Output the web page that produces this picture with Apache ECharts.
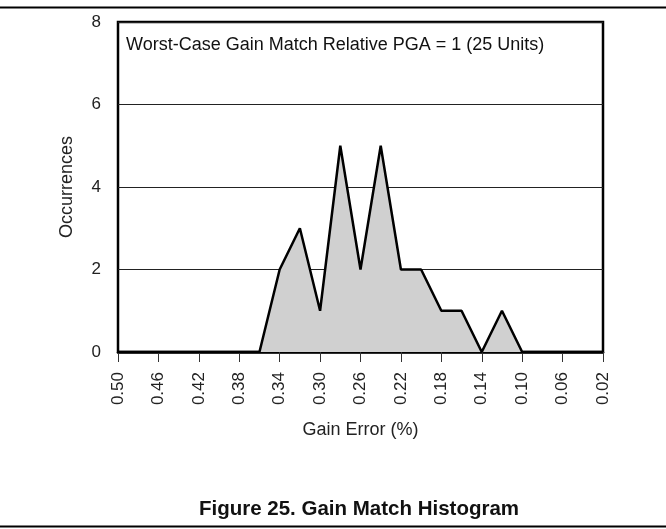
<!DOCTYPE html>
<html>
<head>
<meta charset="utf-8">
<script src="https://cdn.jsdelivr.net/npm/echarts@6/dist/echarts.min.js"></script>
<style>
  html, body { margin: 0; padding: 0; background: #fff; }
  #chart { width: 666px; height: 529px; }
</style>
</head>
<body>
<div id="chart"></div>
<script>
// Gain error bins (%), from 0.50 down to 0.02 in 0.02 steps
const gainErrorBins = ["0.50","0.48","0.46","0.44","0.42","0.40","0.38","0.36","0.34","0.32","0.30","0.28","0.26","0.24","0.22","0.20","0.18","0.16","0.14","0.12","0.10","0.08","0.06","0.04","0.02"];
// Number of units falling in each bin (25 units total)
const occurrences = [0,0,0,0,0,0,0,0,2,3,1,5,2,5,2,2,1,1,0,1,0,0,0,0,0];
const yTicks = { min: 0, max: 8, interval: 2 };

const FONT = '"Liberation Sans", Arial, Helvetica, sans-serif';
const chart = echarts.init(document.getElementById('chart'), null, { renderer: 'canvas' });

chart.setOption({
  animation: false,
  backgroundColor: '#fff',
  grid: {
    left: 118, right: 63, top: 22, bottom: 177,
    show: true, borderColor: '#000', borderWidth: 2.5, backgroundColor: 'transparent'
  },
  xAxis: {
    type: 'category',
    data: gainErrorBins,
    boundaryGap: false,
    name: 'Gain Error (%)',
    nameLocation: 'middle',
    nameGap: 69,
    nameTextStyle: { fontFamily: FONT, fontSize: 18, color: '#222' },
    axisLine: { show: true, lineStyle: { color: '#000', width: 2.5 } },
    axisTick: { show: true, interval: 1, length: 10, lineStyle: { color: '#333', width: 1 } },
    axisLabel: { interval: 1, rotate: 90, margin: 20, fontFamily: FONT, fontSize: 17, color: '#222' },
    splitLine: { show: false }
  },
  yAxis: {
    type: 'value',
    min: yTicks.min, max: yTicks.max, interval: yTicks.interval,
    name: 'Occurrences',
    nameLocation: 'middle',
    nameGap: 42,
    nameTextStyle: { fontFamily: FONT, fontSize: 18, color: '#222' },
    axisLine: { show: false },
    axisTick: { show: false },
    axisLabel: { margin: 17, fontFamily: FONT, fontSize: 17, color: '#222' },
    splitLine: { show: true, lineStyle: { color: '#222', width: 1 } }
  },
  series: [{
    type: 'line',
    data: occurrences,
    symbol: 'none',
    lineStyle: { color: '#000', width: 2.5 },
    areaStyle: { color: '#d0d0d0', opacity: 1 },
    z: 3
  }],
  graphic: [
    { type: 'line', shape: { x1: 0, y1: 7.5, x2: 666, y2: 7.5 }, style: { stroke: '#000', lineWidth: 2 } },
    { type: 'line', shape: { x1: 0, y1: 526.5, x2: 666, y2: 526.5 }, style: { stroke: '#000', lineWidth: 2 } },
    { type: 'text', x: 126, y: 45, style: { text: 'Worst-Case Gain Match Relative PGA = 1 (25 Units)', font: '18px ' + FONT, fill: '#111', textVerticalAlign: 'middle' } },
    { type: 'text', x: 359, y: 509, style: { text: 'Figure 25. Gain Match Histogram', font: 'bold 20.5px ' + FONT, fill: '#111', textAlign: 'center', textVerticalAlign: 'middle' } }
  ]
});
</script>
</body>
</html>
